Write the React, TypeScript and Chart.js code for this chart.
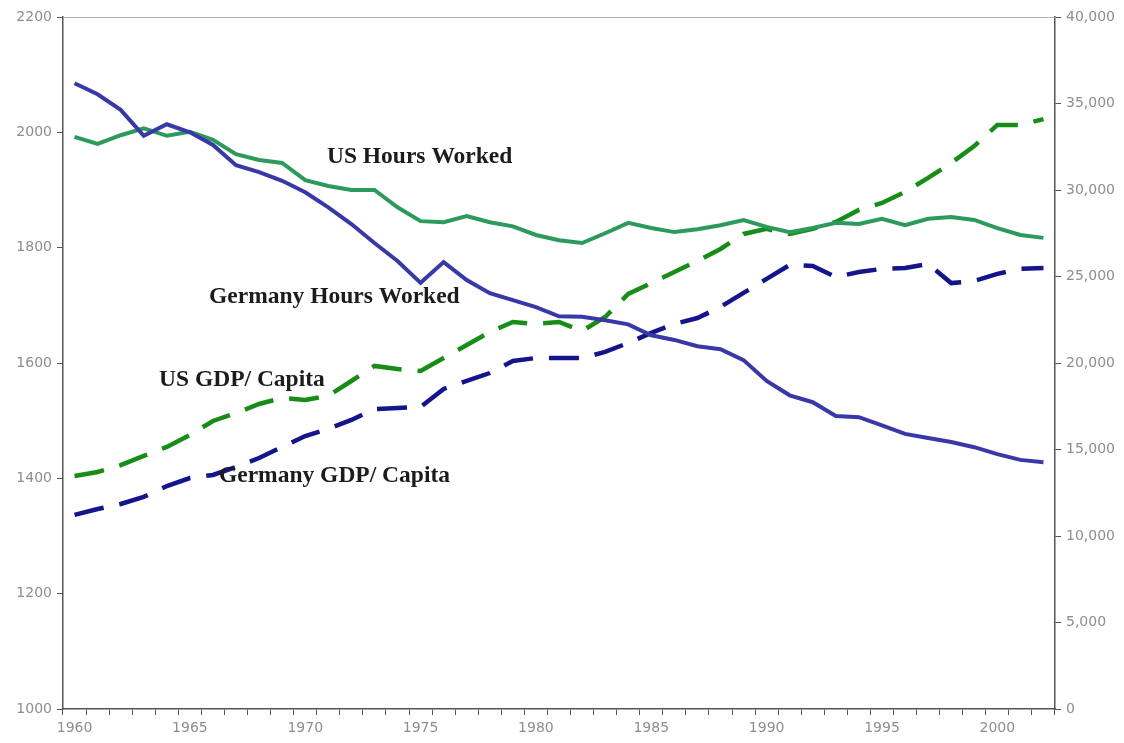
import React, { useEffect, useRef } from "react";
import { Chart, registerables } from "chart.js";

Chart.register(...registerables);

const years: string[] = [];
for (let y = 1960; y <= 2002; y++) years.push(String(y));

const usHours = [
  1992, 1980, 1995, 2007, 1994, 2001, 1987, 1962, 1952, 1947,
  1917, 1907, 1900, 1900, 1870, 1846, 1844, 1855, 1844, 1837,
  1822, 1813, 1808, 1825, 1843, 1834, 1827, 1832, 1839, 1848,
  1836, 1827, 1834, 1843, 1841, 1850, 1839, 1850, 1853, 1848,
  1834, 1822, 1817,
];

const germanyHours = [
  2085, 2066, 2039, 1994, 2014, 2000, 1978, 1943, 1931, 1916,
  1896, 1870, 1841, 1808, 1777, 1739, 1775, 1744, 1721, 1709,
  1697, 1681, 1680, 1674, 1667, 1648, 1640, 1629, 1624, 1605,
  1569, 1544, 1532, 1508, 1506, 1492, 1477, 1470, 1463, 1454,
  1442, 1432, 1428,
];

const usGdp = [
  13470, 13700, 14100, 14630, 15150, 15840, 16650, 17110, 17630, 17980,
  17860, 18100, 18960, 19830, 19650, 19540, 20290, 21040, 21790, 22370,
  22260, 22370, 21850, 22660, 23990, 24620, 25260, 25900, 26590, 27460,
  27750, 27460, 27750, 28150, 28850, 29250, 29890, 30700, 31560, 32540,
  33760, 33760, 34100,
];

const germanyGdp = [
  11220, 11560, 11850, 12260, 12890, 13350, 13530, 13990, 14510, 15150,
  15780, 16190, 16710, 17340, 17400, 17460, 18500, 18960, 19420, 20120,
  20290, 20290, 20290, 20640, 21160, 21740, 22260, 22600, 23240, 24050,
  24860, 25670, 25610, 24970, 25260, 25440, 25490, 25720, 24620, 24740,
  25150, 25440, 25490,
];

// annotation texts with anchor in data coordinates (category index, left-axis value)
const labelTexts = ["US Hours Worked", "Germany Hours Worked", "US GDP/ Capita", "Germany GDP/ Capita"];
const labelIndex = [10.94, 5.83, 3.66, 6.26];
const labelValue = [1957, 1714, 1570, 1404];

const tickFont = { family: "'DejaVu Sans'", size: 14 };
const tickColor = "#8e8e8e";

export default function App() {
  const ref = useRef<HTMLCanvasElement | null>(null);

  useEffect(() => {
    document.body.style.margin = "0";
    const canvas = ref.current;
    if (!canvas) return;

    const framePlugin = {
      id: "frame",
      beforeDatasetsDraw(chart: any) {
        const { ctx, chartArea } = chart;
        ctx.save();
        ctx.strokeStyle = "#b0b0b0";
        ctx.lineWidth = 1;
        ctx.beginPath();
        ctx.moveTo(chartArea.left, chartArea.top + 0.5);
        ctx.lineTo(chartArea.right, chartArea.top + 0.5);
        ctx.stroke();
        ctx.restore();
      },
    };

    const textPlugin = {
      id: "seriesText",
      afterDatasetsDraw(chart: any) {
        const { ctx, scales } = chart;
        ctx.save();
        ctx.font = "bold 23.5px 'Liberation Serif'";
        ctx.fillStyle = "#1c1c1c";
        ctx.textAlign = "left";
        ctx.textBaseline = "middle";
        labelTexts.forEach((t, i) => {
          const x = scales.x.getPixelForValue(labelIndex[i]);
          const y = scales.y.getPixelForValue(labelValue[i]);
          ctx.fillText(t, x, y);
        });
        ctx.restore();
      },
    };

    const chart = new Chart(canvas, {
      type: "line",
      data: {
        labels: years,
        datasets: [
          {
            label: "Germany Hours Worked",
            data: germanyHours,
            yAxisID: "y",
            borderColor: "#3838a8",
            borderWidth: 4,
            pointRadius: 0,
            tension: 0,
          },
          {
            label: "US Hours Worked",
            data: usHours,
            yAxisID: "y",
            borderColor: "#2c9a5c",
            borderWidth: 4,
            pointRadius: 0,
            tension: 0,
          },
          {
            label: "Germany GDP/ Capita",
            data: germanyGdp,
            yAxisID: "y1",
            borderColor: "#14148c",
            borderWidth: 4.5,
            borderDash: [30, 16],
            pointRadius: 0,
            tension: 0,
          },
          {
            label: "US GDP/ Capita",
            data: usGdp,
            yAxisID: "y1",
            borderColor: "#178c17",
            borderWidth: 4.5,
            borderDash: [30, 16],
            pointRadius: 0,
            tension: 0,
          },
        ],
      },
      options: {
        animation: false,
        responsive: false,
        devicePixelRatio: 1,
        layout: { padding: { top: 17, left: 0, right: 0, bottom: 0 } },
        plugins: {
          legend: { display: false },
          tooltip: { enabled: false },
        },
        scales: {
          x: {
            type: "category",
            offset: true,
            grid: {
              offset: true,
              drawOnChartArea: false,
              drawTicks: true,
              tickLength: 6,
              color: "#555",
            },
            border: { color: "#555", width: 1.5 },
            ticks: {
              autoSkip: false,
              maxRotation: 0,
              minRotation: 0,
              padding: 5,
              color: tickColor,
              font: tickFont,
              callback: (_v: any, i: number) => (Number(years[i]) % 5 === 0 ? years[i] : ""),
            },
            afterFit: (s: any) => {
              s.height = 34;
            },
          },
          y: {
            type: "linear",
            position: "left",
            min: 1000,
            max: 2200,
            grid: { drawOnChartArea: false, tickLength: 6, color: "#555" },
            border: { color: "#555", width: 1.5 },
            ticks: {
              stepSize: 200,
              padding: 5,
              color: tickColor,
              font: tickFont,
              callback: (v: any) => String(v),
            },
            afterFit: (s: any) => {
              s.width = 63;
            },
          },
          y1: {
            type: "linear",
            position: "right",
            min: 0,
            max: 40000,
            grid: { drawOnChartArea: false, tickLength: 6, color: "#555" },
            border: { color: "#555", width: 1.5 },
            ticks: {
              stepSize: 5000,
              padding: 5,
              color: tickColor,
              font: tickFont,
            },
            afterFit: (s: any) => {
              s.width = 69;
            },
          },
        },
      },
      plugins: [framePlugin, textPlugin],
    });

    return () => chart.destroy();
  }, []);

  return (
    <div style={{ width: 1124, height: 743, background: "#fff" }}>
      <canvas ref={ref} width={1124} height={743} style={{ display: "block" }} />
    </div>
  );
}
